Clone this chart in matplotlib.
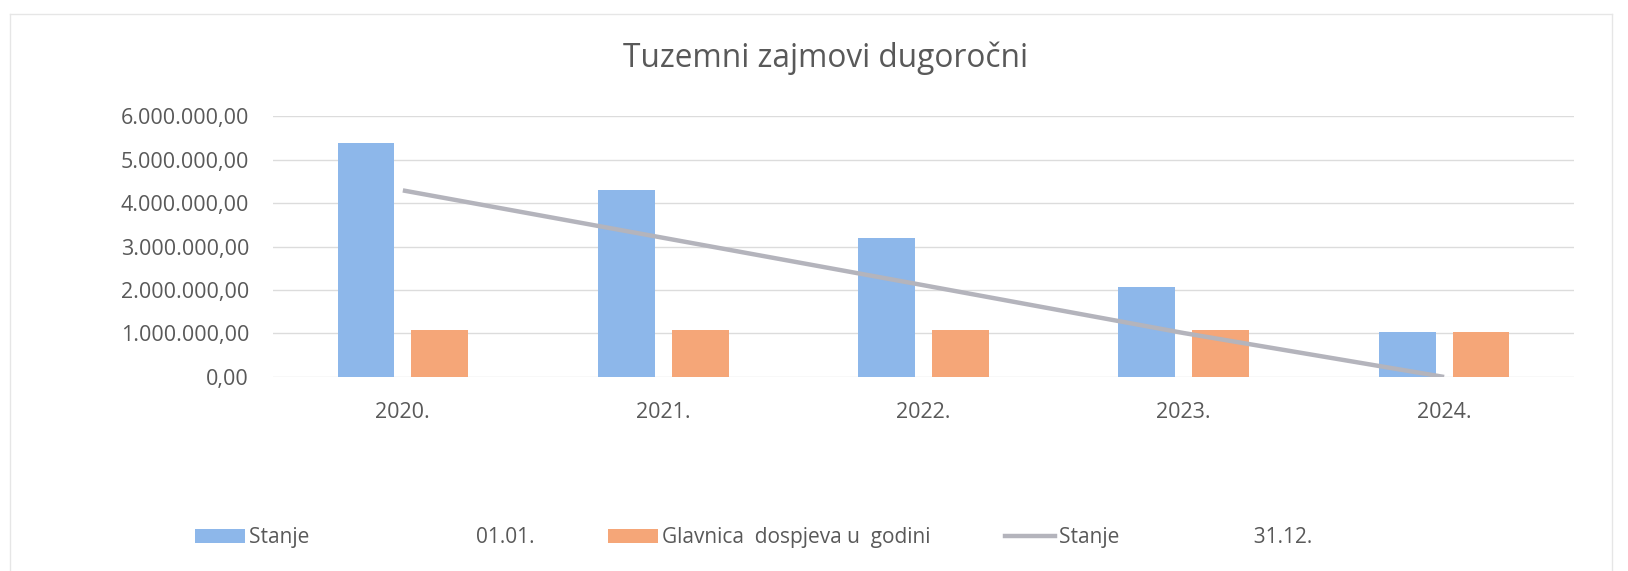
import matplotlib
matplotlib.use("Agg")
import matplotlib.pyplot as plt
from matplotlib.ticker import FuncFormatter, MultipleLocator
from matplotlib.patches import Patch
from matplotlib.lines import Line2D
import numpy as np

years = ['2020.', '2021.', '2022.', '2023.', '2024.']
stanje_0101 = [5380000, 4290000, 3200000, 2070000, 1030000]
glavnica = [1090000, 1090000, 1090000, 1090000, 1030000]
stanje_3112 = [4290000, 3200000, 2110000, 1010000, 0]

label_a = 'Stanje' + ' ' * 31 + '01.01.'
label_b = 'Glavnica  dospjeva u  godini'
label_c = 'Stanje' + ' ' * 25 + '31.12.'

plt.rcParams['font.family'] = ['Open Sans', 'DejaVu Sans']
text_col = '#595959'
blue = '#8DB7EA'
orange = '#F5A678'
gray = '#B4B4BC'

fig = plt.figure(figsize=(16.28, 5.71), dpi=100)
ax = fig.add_axes([0.1675, 0.3398, 0.7995, 0.4570])

x = np.arange(len(years))
w = 0.218
off = 0.142
ax.bar(x - off, stanje_0101, width=w, color=blue, zorder=2)
ax.bar(x + off, glavnica, width=w, color=orange, zorder=2)
ax.plot(x, stanje_3112, color=gray, lw=3.2, zorder=3, solid_capstyle='butt')

ax.set_xlim(-0.5, len(years) - 0.5)
ax.set_ylim(0, 6000000)
ax.yaxis.set_major_locator(MultipleLocator(1000000))

def fmt(v, pos):
    s = f"{v:,.2f}"
    return s.replace(',', 'X').replace('.', ',').replace('X', '.')
ax.yaxis.set_major_formatter(FuncFormatter(fmt))
ax.set_xticks(x)
ax.set_xticklabels(years)

ax.grid(axis='y', color='#DCDCDC', lw=1, zorder=0)
for s in ax.spines.values():
    s.set_visible(False)
ax.tick_params(axis='both', length=0, colors=text_col, labelsize=15.5)
ax.tick_params(axis='y', pad=17)
ax.tick_params(axis='x', pad=18)

fig.text(0.507, 1 - 58 / 571, 'Tuzemni zajmovi dugoročni', ha='center', va='center',
         fontsize=22.8, color=text_col)

handles = [Patch(facecolor=blue, edgecolor='none'),
           Patch(facecolor=orange, edgecolor='none'),
           Line2D([0], [0], color=gray, lw=3.2)]
leg = fig.legend(handles, [label_a, label_b, label_c], loc='center left',
                 bbox_to_anchor=(0.108, 0.058), ncol=3, frameon=False,
                 fontsize=15, handlelength=2.4, handleheight=0.7,
                 handletextpad=0.2, columnspacing=3.55, labelcolor=text_col)

# faint scanned chart border
fig.add_artist(Line2D([10 / 1628, 10 / 1628], [0, 1 - 14 / 571], transform=fig.transFigure,
                      color='#E6E6E6', lw=1))
fig.add_artist(Line2D([10 / 1628, 1612 / 1628], [1 - 14 / 571, 1 - 14 / 571],
                      transform=fig.transFigure, color='#E6E6E6', lw=1))
fig.add_artist(Line2D([1612 / 1628, 1612 / 1628], [0, 1 - 14 / 571], transform=fig.transFigure,
                      color='#E6E6E6', lw=1))

fig.savefig('out.png', dpi=100)
